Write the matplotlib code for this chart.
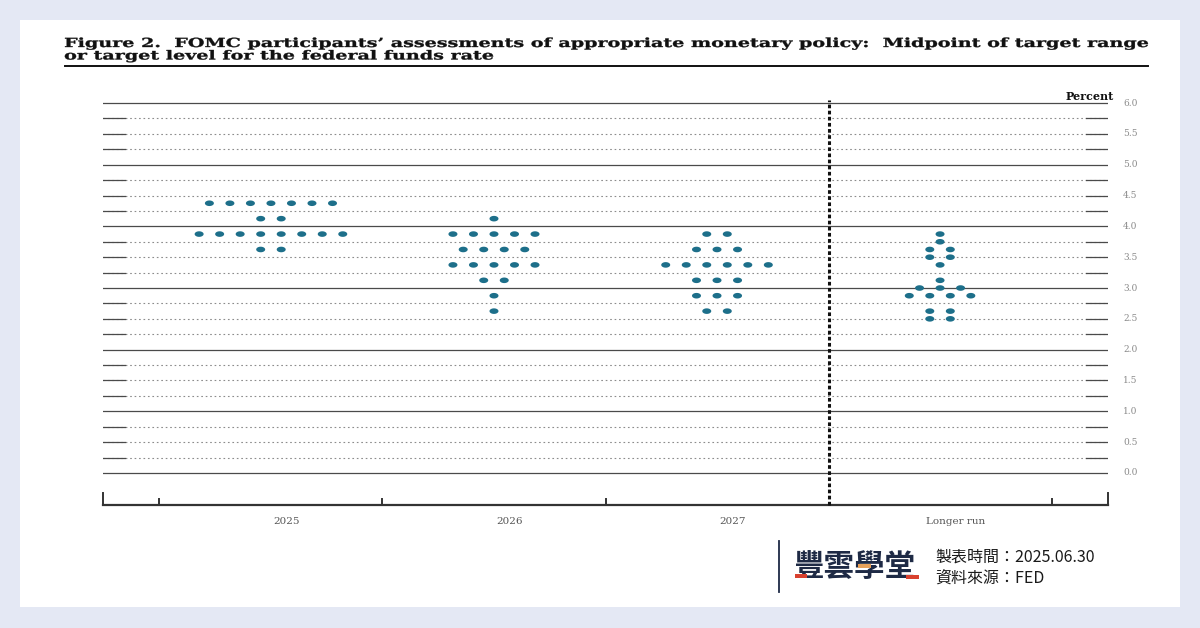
import numpy as np
import matplotlib
matplotlib.use("Agg")
import matplotlib.pyplot as plt
from matplotlib.path import Path
from matplotlib.patches import Rectangle, PathPatch
from matplotlib.lines import Line2D
from matplotlib.textpath import TextPath
from matplotlib.font_manager import FontProperties
from matplotlib.transforms import Affine2D

# ─── Data (midpoints of target range, one dot per participant) ───
CATEGORIES = ["2025", "2026", "2027", "Longer run"]

LEVELS_2025 = [4.375, 4.125, 3.875, 3.625]
COUNTS_2025 = [7, 2, 8, 2]

LEVELS_2026 = [4.125, 3.875, 3.625, 3.375, 3.125, 2.875, 2.625]
COUNTS_2026 = [1, 5, 4, 5, 2, 1, 1]

LEVELS_2027 = [3.875, 3.625, 3.375, 3.125, 2.875, 2.625]
COUNTS_2027 = [2, 3, 6, 3, 3, 2]

LEVELS_LR = [3.875, 3.75, 3.625, 3.5, 3.375, 3.125, 3.0, 2.875, 2.625, 2.5]
COUNTS_LR = [1, 1, 2, 2, 1, 1, 3, 4, 2, 2]

Y_TICKS = [0.0, 0.5, 1.0, 1.5, 2.0, 2.5, 3.0, 3.5, 4.0, 4.5, 5.0, 5.5, 6.0]

TITLE_1 = "Figure 2.  FOMC participants’ assessments of appropriate monetary policy:  Midpoint of target range"
TITLE_2 = "or target level for the federal funds rate"

# ─── Style ───────────────────────────────────────────────────────
W, H = 1200, 628
BG = "#e4e8f4"
DOT = "#1d6f8a"
NAVY = "#1e2a45"
SERIF = ["DejaVu Serif"]
CJK = ["Noto Sans CJK TC", "DejaVu Sans"]

def fx(px):
    return px / W

def fy(py):
    return 1 - py / H

fig = plt.figure(figsize=(12, 6.28), dpi=100)
fig.patch.set_facecolor(BG)
fig.add_artist(Rectangle((fx(20), fy(607)), fx(1160), (607 - 20) / H,
                         transform=fig.transFigure, facecolor="white",
                         edgecolor="none", zorder=0))

# axes spans pixel x 103..1108, y 100..505
ax = fig.add_axes([fx(103), fy(505), fx(1005), (505 - 100) / H])
ax.set_facecolor("none")
XL = (-0.753, 3.753)
ax.set_xlim(*XL)
ax.set_ylim(-0.52, 6.05)
for s in ax.spines.values():
    s.set_visible(False)
ax.set_xticks([])
ax.set_yticks([])

# horizontal grid, every 0.25
for v in np.arange(0, 6.001, 0.25):
    if abs(v - round(v)) < 1e-9:
        ax.axhline(v, color="#4a4a4a", lw=0.9, zorder=1)
    else:
        ax.axhline(v, color="#8c8c8c", lw=0.8, ls=(0, (1.5, 2.5)), zorder=1)
        ax.axhline(v, xmin=0, xmax=0.022, color="#4a4a4a", lw=0.9, zorder=1)
        ax.axhline(v, xmin=0.978, xmax=1, color="#4a4a4a", lw=0.9, zorder=1)

# right-hand tick labels
for v in Y_TICKS:
    ax.text(1.015, v, f"{v:.1f}", transform=ax.get_yaxis_transform(),
            ha="left", va="center", fontsize=6.5, color="#8a8a8a",
            family=SERIF)
ax.text(1.006, 6.11, "Percent", transform=ax.get_yaxis_transform(),
        ha="right", va="center", fontsize=8, fontweight="bold",
        color="#111111", family=SERIF)

# bottom axis with ticks
ax.axhline(-0.52, color="#333333", lw=1.6, clip_on=False, zorder=2)
for xt in [-0.5, 0.5, 1.5, 3.5]:
    ax.plot([xt, xt], [-0.52, -0.42], color="#333333", lw=1.4,
            clip_on=False, zorder=2)
for xt in XL:
    ax.plot([xt, xt], [-0.52, -0.33], color="#333333", lw=1.4,
            clip_on=False, zorder=2)
# divider before longer run
ax.plot([2.5, 2.5], [-0.52, 6.05], color="#111111", lw=2.2,
        ls=(0, (1.2, 0.8)), zorder=2, clip_on=False)

for i, name in enumerate(CATEGORIES):
    ax.text(i + 0.07, -0.78, name, ha="center", va="center",
            fontsize=7.5, color="#555555", family=SERIF)

# ellipse-shaped dot marker
t = np.linspace(0, 2 * np.pi, 40)
ell = Path(np.column_stack([np.cos(t), 0.62 * np.sin(t)]))

groups = [(LEVELS_2025, COUNTS_2025), (LEVELS_2026, COUNTS_2026),
          (LEVELS_2027, COUNTS_2027), (LEVELS_LR, COUNTS_LR)]
step = 0.092
for i, (levels, counts) in enumerate(groups):
    xs, ys = [], []
    for lv, n in zip(levels, counts):
        offs = (np.arange(n) - (n - 1) / 2) * step
        xs.extend(i + offs)
        ys.extend([lv] * n)
    ax.scatter(xs, ys, marker=ell, s=42, color=DOT, edgecolors="none",
               zorder=3)

# ─── Title (wide, extended serif: stretch the glyph paths) ──────
fp = FontProperties(family="DejaVu Serif", weight="bold")
tp1 = TextPath((0, 0), TITLE_1, size=12.5, prop=fp)
tp2 = TextPath((0, 0), TITLE_2, size=12.5, prop=fp)
e1 = tp1.get_extents()
sx = (1148 - 65) / e1.width
for tp, base in [(tp1, 47), (tp2, 59.5)]:
    tr = Affine2D().translate(-e1.x0, 0).scale(sx, 1).translate(65, H - base)
    fig.add_artist(PathPatch(tp, transform=tr, facecolor="#111111",
                             edgecolor="#111111", lw=0.25))
fig.add_artist(Line2D([fx(65), fx(1148)], [fy(66), fy(66)],
                      transform=fig.transFigure, color="#111111", lw=1.4))

# ─── Footer / logo ───────────────────────────────────────────────
fig.add_artist(Line2D([fx(779), fx(779)], [fy(541), fy(592)],
                      transform=fig.transFigure, color=NAVY, lw=1.3))
fig.text(fx(793), fy(567), "豐雲學堂", ha="left", va="center", fontsize=22,
         fontweight="heavy", family=CJK, color=NAVY)
for x0, y0, w, h, c in [(795, 578, 12, 4, "#d9412f"),
                        (858, 568, 13, 4, "#e8a25a"),
                        (906, 579, 13, 4, "#d9412f")]:
    fig.add_artist(Rectangle((fx(x0), fy(y0)), w / W, h / H,
                             transform=fig.transFigure, facecolor=c,
                             edgecolor="none", zorder=5))
fig.text(fx(935), fy(557), "製表時間：2025.06.30", ha="left", va="center",
         fontsize=11.5, family=CJK, color="#1a1a1a")
fig.text(fx(935), fy(578), "資料來源：FED", ha="left", va="center",
         fontsize=11.5, family=CJK, color="#1a1a1a")

fig.savefig("out.png", dpi=100, facecolor=BG)
